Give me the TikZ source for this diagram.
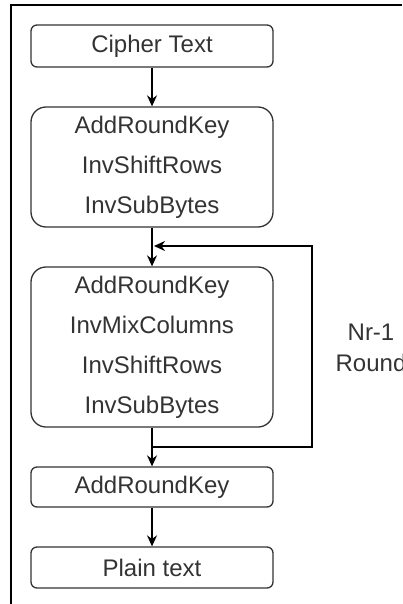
\documentclass[tikz,border=0pt]{standalone}
\usepackage{fontspec}
\setmainfont{Liberation Sans}
\usetikzlibrary{arrows.meta}
\begin{document}
\begin{tikzpicture}[x=1pt,y=-1pt,
  box/.style={draw=black!80, line width=1.3pt, minimum width=242pt, inner sep=0pt,
    align=center, text=black!80, font=\fontsize{24}{40}\selectfont},
  arr/.style={line width=1.3pt, -{Stealth[length=11pt,width=10pt]}},
  ln/.style={line width=1.3pt}]
\useasboundingbox (0,0) rectangle (402,604);
\draw[line width=1.5pt] (11,604) -- (11,5) -- (402,5);
\node[box, rounded corners=6pt, minimum height=42pt] (ct) at (152,46) {Cipher Text};
\node[box, rounded corners=15pt, minimum height=120pt] (b2) at (152,167)
  {AddRoundKey\\InvShiftRows\\InvSubBytes};
\node[box, rounded corners=15pt, minimum height=160pt] (b3) at (152,347)
  {AddRoundKey\\InvMixColumns\\InvShiftRows\\InvSubBytes};
\node[box, rounded corners=6pt, minimum height=40pt] (ark) at (152,487) {AddRoundKey};
\node[box, rounded corners=6pt, minimum height=41pt] (pt) at (152,567.5) {Plain text};
\node[align=center, text=black!80, font=\fontsize{24}{31}\selectfont] (nr) at (371,348) {Nr-1\\Round};
\coordinate (j1) at (152,447);
\coordinate (lt) at (154,246);
\coordinate (rc) at (312,447);
\draw[arr] (ct.south) -- (b2.north);
\draw[arr] (b2.south) -- (b3.north);
\draw[ln] (b3.south) -- (j1);
\draw[arr] (j1) -- (ark.north);
\draw[arr] (j1) -- (rc) |- (lt);
\draw[arr] (ark.south) -- (pt.north);
\end{tikzpicture}
\end{document}
